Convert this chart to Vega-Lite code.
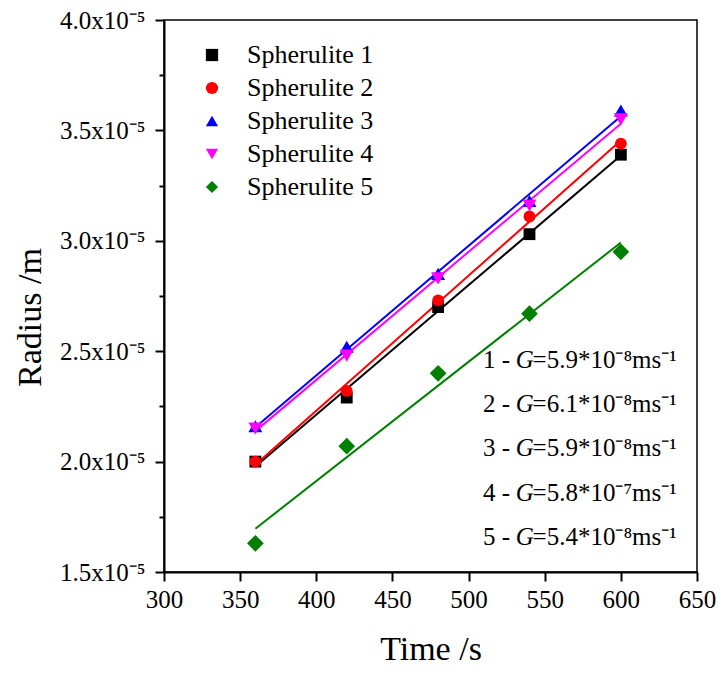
{
  "$schema": "https://vega.github.io/schema/vega-lite/v6.json",
  "width": 533,
  "height": 552,
  "autosize": {"type": "none"},
  "padding": {"left": 164, "top": 20, "right": 23, "bottom": 101},
  "background": "white",
  "config": {
    "font": "Liberation Serif",
    "view": {"stroke": "black", "strokeWidth": 1.5},
    "axis": {
      "labelFont": "Liberation Serif", "titleFont": "Liberation Serif",
      "labelFontSize": 25, "titleFontSize": 34, "titleFontWeight": "normal",
      "labelColor": "black", "titleColor": "black",
      "domainColor": "black", "domainWidth": 2, "tickColor": "black", "tickWidth": 2,
      "grid": false, "labelOverlap": false, "labelFlush": false
    },
    "legend": {
      "labelFont": "Liberation Serif", "labelFontSize": 26, "labelColor": "black",
      "labelOffset": 22, "rowPadding": 7, "symbolStrokeWidth": 0, "padding": 0, "symbolSize": 150
    }
  },
  "datasets": {
    "pts": [
      {"series": "Spherulite 1", "time": 360, "radius": 2.00e-5},
      {"series": "Spherulite 1", "time": 420, "radius": 2.29e-5},
      {"series": "Spherulite 1", "time": 480, "radius": 2.70e-5},
      {"series": "Spherulite 1", "time": 540, "radius": 3.03e-5},
      {"series": "Spherulite 1", "time": 600, "radius": 3.39e-5},
      {"series": "Spherulite 2", "time": 360, "radius": 2.00e-5},
      {"series": "Spherulite 2", "time": 420, "radius": 2.32e-5},
      {"series": "Spherulite 2", "time": 480, "radius": 2.73e-5},
      {"series": "Spherulite 2", "time": 540, "radius": 3.11e-5},
      {"series": "Spherulite 2", "time": 600, "radius": 3.44e-5},
      {"series": "Spherulite 3", "time": 360, "radius": 2.16e-5},
      {"series": "Spherulite 3", "time": 420, "radius": 2.52e-5},
      {"series": "Spherulite 3", "time": 480, "radius": 2.85e-5},
      {"series": "Spherulite 3", "time": 540, "radius": 3.18e-5},
      {"series": "Spherulite 3", "time": 600, "radius": 3.59e-5},
      {"series": "Spherulite 4", "time": 360, "radius": 2.15e-5},
      {"series": "Spherulite 4", "time": 420, "radius": 2.48e-5},
      {"series": "Spherulite 4", "time": 480, "radius": 2.83e-5},
      {"series": "Spherulite 4", "time": 540, "radius": 3.16e-5},
      {"series": "Spherulite 4", "time": 600, "radius": 3.55e-5},
      {"series": "Spherulite 5", "time": 360, "radius": 1.63e-5},
      {"series": "Spherulite 5", "time": 420, "radius": 2.07e-5},
      {"series": "Spherulite 5", "time": 480, "radius": 2.40e-5},
      {"series": "Spherulite 5", "time": 540, "radius": 2.67e-5},
      {"series": "Spherulite 5", "time": 600, "radius": 2.95e-5}
    ],
    "notes": [
      {"pre": "1 - ", "rest": "=5.9*10⁻⁸ms⁻¹", "pos": 2.46e-5},
      {"pre": "2 - ", "rest": "=6.1*10⁻⁸ms⁻¹", "pos": 2.26e-5},
      {"pre": "3 - ", "rest": "=5.9*10⁻⁸ms⁻¹", "pos": 2.06e-5},
      {"pre": "4 - ", "rest": "=5.8*10⁻⁷ms⁻¹", "pos": 1.86e-5},
      {"pre": "5 - ", "rest": "=5.4*10⁻⁸ms⁻¹", "pos": 1.66e-5}
    ]
  },
  "layer": [
    {
      "data": {"name": "pts"},
      "transform": [{"regression": "radius", "on": "time", "groupby": ["series"]}],
      "mark": {"type": "line", "strokeWidth": 2},
      "encoding": {
        "x": {
          "field": "time", "type": "quantitative",
          "scale": {"domain": [300, 650], "nice": false, "zero": false},
          "axis": {
            "title": "Time /s", "titlePadding": 20, "labelPadding": 6,
            "values": [300, 325, 350, 375, 400, 425, 450, 475, 500, 525, 550, 575, 600, 625, 650],
            "labelExpr": "datum.value % 50 === 0 ? datum.label : ''",
            "format": "d",
            "tickSize": {"condition": {"test": "datum.value % 50 === 0", "value": 9}, "value": 5}
          }
        },
        "y": {
          "field": "radius", "type": "quantitative",
          "scale": {"domain": [1.5e-5, 4.0e-5], "nice": false, "zero": false},
          "axis": {
            "title": "Radius /m", "titlePadding": 12, "labelPadding": 10, "titleY": 297,
            "values": [1.5e-5, 1.75e-5, 2.0e-5, 2.25e-5, 2.5e-5, 2.75e-5, 3.0e-5, 3.25e-5, 3.5e-5, 3.75e-5, 4.0e-5],
            "labelExpr": "abs(datum.value*2e5 - round(datum.value*2e5)) < 0.01 ? format(datum.value*1e5, '.1f') + 'x10⁻⁵' : ''",
            "tickSize": {"condition": {"test": "abs(datum.value*2e5 - round(datum.value*2e5)) < 0.01", "value": 9}, "value": 5}
          }
        },
        "detail": {"field": "series", "type": "nominal"},
        "color": {
          "field": "series", "type": "nominal", "title": null,
          "scale": {"domain": ["Spherulite 1", "Spherulite 2", "Spherulite 3", "Spherulite 4", "Spherulite 5"], "range": ["#000000", "#ff0000", "#0000ff", "#ff00ff", "#008000"]},
          "legend": {"orient": "none", "legendX": 35, "legendY": 22}
        }
      }
    },
    {
      "data": {"name": "pts"},
      "transform": [{"filter": {"field": "series", "oneOf": ["Spherulite 1", "Spherulite 2"]}}],
      "mark": {"type": "point", "filled": true, "opacity": 1, "size": 140},
      "encoding": {
        "x": {"field": "time", "type": "quantitative"},
        "y": {"field": "radius", "type": "quantitative"},
        "color": {"field": "series", "type": "nominal", "title": null, "legend": {"orient": "none", "legendX": 35, "legendY": 22}},
        "shape": {
          "field": "series", "type": "nominal", "title": null,
          "scale": {"domain": ["Spherulite 1", "Spherulite 2", "Spherulite 3", "Spherulite 4", "Spherulite 5"], "range": ["square", "circle", "triangle-up", "triangle-down", "diamond"]},
          "legend": {"orient": "none", "legendX": 35, "legendY": 22}
        }
      }
    },
    {
      "data": {"name": "pts"},
      "transform": [{"filter": {"field": "series", "oneOf": ["Spherulite 3", "Spherulite 4"]}}],
      "mark": {"type": "point", "filled": true, "opacity": 1, "size": 195},
      "encoding": {
        "x": {"field": "time", "type": "quantitative"},
        "y": {"field": "radius", "type": "quantitative"},
        "color": {"field": "series", "type": "nominal", "title": null, "legend": {"orient": "none", "legendX": 35, "legendY": 22}},
        "shape": {"field": "series", "type": "nominal", "title": null, "legend": {"orient": "none", "legendX": 35, "legendY": 22}}
      }
    },
    {
      "data": {"name": "pts"},
      "transform": [{"filter": {"field": "series", "equal": "Spherulite 5"}}],
      "mark": {"type": "point", "filled": true, "opacity": 1, "size": 280},
      "encoding": {
        "x": {"field": "time", "type": "quantitative"},
        "y": {"field": "radius", "type": "quantitative"},
        "color": {"field": "series", "type": "nominal", "title": null, "legend": {"orient": "none", "legendX": 35, "legendY": 22}},
        "shape": {"field": "series", "type": "nominal", "title": null, "legend": {"orient": "none", "legendX": 35, "legendY": 22}}
      }
    },
    {
      "data": {"name": "notes"},
      "mark": {"type": "text", "align": "left", "baseline": "middle", "fontSize": 25, "font": "Liberation Serif", "color": "black"},
      "encoding": {
        "x": {"datum": 509.5, "type": "quantitative"},
        "y": {"field": "pos", "type": "quantitative"},
        "text": {"field": "pre"}
      }
    },
    {
      "data": {"name": "notes"},
      "mark": {"type": "text", "align": "left", "baseline": "middle", "fontSize": 25, "font": "Liberation Serif", "fontStyle": "italic", "color": "black"},
      "encoding": {
        "x": {"datum": 531, "type": "quantitative"},
        "y": {"field": "pos", "type": "quantitative"},
        "text": {"value": "G"}
      }
    },
    {
      "data": {"name": "notes"},
      "mark": {"type": "text", "align": "left", "baseline": "middle", "fontSize": 25, "font": "Liberation Serif", "color": "black"},
      "encoding": {
        "x": {"datum": 542, "type": "quantitative"},
        "y": {"field": "pos", "type": "quantitative"},
        "text": {"field": "rest"}
      }
    }
  ]
}
